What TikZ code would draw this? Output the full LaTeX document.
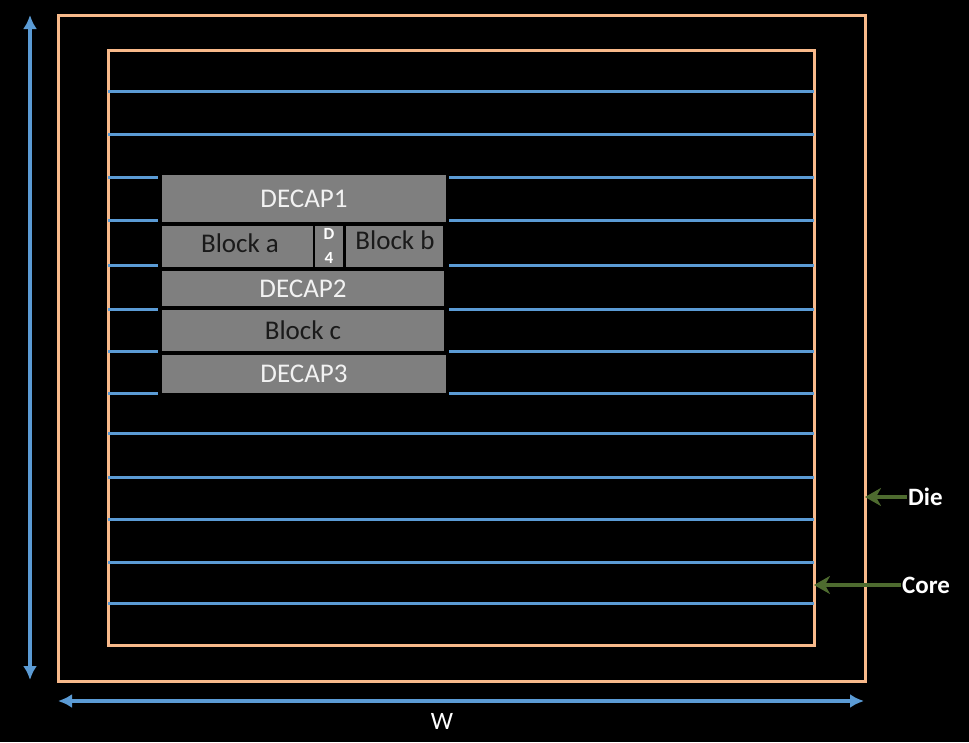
\documentclass[tikz,border=0pt]{standalone}
\usepackage{fontspec}
\setmainfont{Carlito}
\usetikzlibrary{arrows.meta}
\definecolor{pwr}{HTML}{5B9BD5}
\definecolor{edgeor}{HTML}{F8B98A}
\definecolor{blk}{HTML}{7F7F7F}
\definecolor{lbl}{HTML}{4E6B2F}
\definecolor{dtext}{HTML}{1A1A1A}
\tikzset{
  ring/.style={draw=edgeor, line width=3pt, inner sep=0pt, outer sep=0pt},
  rail/.style={draw=pwr, line width=3pt},
  blockbox/.style={fill=blk, draw=none, inner sep=0pt, outer sep=0pt},
  whitetxt/.style={text=white!95!black, font=\fontsize{27}{31}\selectfont},
  darktxt/.style={text=dtext, font=\fontsize{27}{31}\selectfont},
  dimarrows/.style={draw=pwr, line width=3.5pt, {Latex[length=14pt,width=14pt]}-{Latex[length=14pt,width=14pt]}},
  callout/.style={draw=lbl, line width=3.5pt, -{Stealth[length=16pt,width=18pt,inset=5pt]}},
  sidelabel/.style={text=white, font=\bfseries\fontsize{25}{29}\selectfont, inner sep=1pt, anchor=west}
}
\begin{document}
\begin{tikzpicture}[x=1pt,y=-1pt]
\fill[black] (0,0) rectangle (969,742);
\useasboundingbox (0,0) rectangle (969,742);
% die and core
\node[ring, minimum width=807pt, minimum height=666pt] (die) at (461.5,348) {};
\node[ring, minimum width=706pt, minimum height=595pt] (core) at (461,347.5) {};
% full power rails
\foreach \yy in {91,134,433,477,519,562,603}
  \draw[rail] (core.west |- 0,\yy) -- (core.east |- 0,\yy);
% blocks
\node[blockbox, minimum width=284pt, minimum height=47pt] (decap1) at (304,198.5) {};
\node[blockbox, minimum width=151pt, minimum height=41pt] (blocka) at (237.5,246.5) {};
\node[blockbox, minimum width=28pt, minimum height=41pt] (dfour) at (329,246.5) {};
\node[blockbox, minimum width=97pt, minimum height=41pt] (blockb) at (394.5,246.5) {};
\node[blockbox, minimum width=282pt, minimum height=35pt] (decap2) at (303,288.5) {};
\node[blockbox, minimum width=282pt, minimum height=41pt] (blockc) at (303,330.5) {};
\node[blockbox, minimum width=284pt, minimum height=38pt] (decap3) at (304,374) {};
% broken rails
\foreach \yy in {177,220,265,309,351,393}{
  \draw[rail] (core.west |- 0,\yy) -- (158,\yy);
  \draw[rail] (449,\yy) -- (core.east |- 0,\yy);
}
% block texts
\node[whitetxt] (t1) at (decap1.center) {DECAP1};
\node[darktxt] (ta) at (240,243) {Block a};
\node[darktxt] (tb) at (395,240) {Block b};
\node[whitetxt] (t2) at (decap2.center) {DECAP2};
\node[darktxt] (tc) at (blockc.center) {Block c};
\node[whitetxt] (t3) at (decap3.center) {DECAP3};
\node[text=white, font=\bfseries\fontsize{17}{18}\selectfont, inner sep=0pt] (td) at (329,234) {D};
\node[text=white, font=\bfseries\fontsize{17}{18}\selectfont, inner sep=0pt] (t4) at (329,258) {4};
% dimension arrows
\coordinate (htop) at (30,15);
\coordinate (hbot) at (30,680);
\draw[dimarrows] (htop) -- (hbot);
\coordinate (wl) at (58,701);
\coordinate (wr) at (864,701);
\draw[dimarrows] (wl) -- (wr);
\node[text=white, font=\fontsize{25}{29}\selectfont] (wlab) at (442,721) {W};
% side labels
\node[sidelabel] (dielab) at (907,497) {Die};
\node[sidelabel] (corelab) at (901,585) {Core};
\draw[callout] (dielab.west) -- (die.east |- dielab.west);
\draw[callout] (corelab.west) -- (core.east |- corelab.west);
\end{tikzpicture}
\end{document}
